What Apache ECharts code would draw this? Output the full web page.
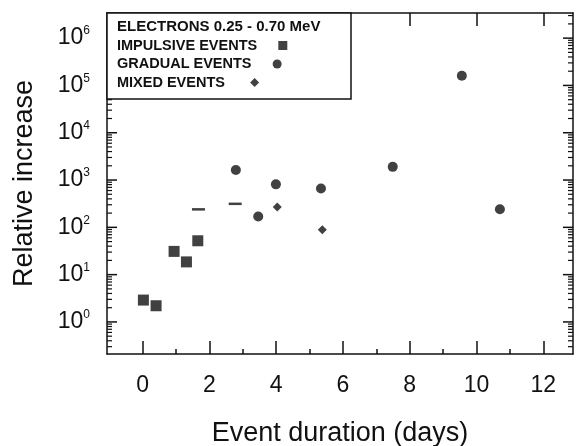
<!DOCTYPE html>
<html>
<head>
<meta charset="utf-8">
<script src="https://cdn.jsdelivr.net/npm/echarts@6/dist/echarts.min.js"></script>
<style>html,body{margin:0;padding:0;background:#fff}#c{width:577px;height:446px}</style>
</head>
<body>
<div id="c"></div>
<script>
// ---- data ----
const impulsiveX = [0.02, 0.40, 0.94, 1.31, 1.65];
const impulsiveY = [2.9, 2.2, 31, 18.6, 52];
const gradualX = [2.79, 3.46, 3.99, 5.34, 7.49, 9.56, 10.70];
const gradualY = [1630, 169, 810, 665, 1900, 160000, 241];
const mixedX = [4.03, 5.38];
const mixedY = [268, 89];
const dashX = [1.67, 2.77];
const dashY = [240, 314];
const xMajorTicks = [0, 2, 4, 6, 8, 10, 12];
const xMinorTicks = [1, 3, 5, 7, 9, 11];
const yMajorTicks = [1, 10, 100, 1000, 10000, 100000, 1000000];
const yMinorTicks = [];
[0.1, 1, 10, 100, 1000, 10000, 100000, 1000000].forEach(d => {
  for (let k = 2; k <= 9; k++) yMinorTicks.push(+(k * d).toPrecision(3));
});
const legendTitle = 'ELECTRONS 0.25 - 0.70 MeV';
const seriesNames = ['IMPULSIVE EVENTS', 'GRADUAL EVENTS', 'MIXED EVENTS'];
const legendIcons = ['rect', 'circle', 'diamond'];
const xTitle = 'Event duration (days)';
const yTitle = 'Relative increase';

const ink = '#111';
const font = 'Liberation Sans, Arial, Helvetica, sans-serif';
const xMin = -1.07, xMax = 12.89;
const yMin = 0.21, yMax = 3.4e6;
const legendPad = [4, 4, 5];

function pairs(xs, ys) { return xs.map((x, i) => [x, ys[i]]); }

function xAx(extra) {
  return Object.assign({
    type: 'value', min: xMin, max: xMax, position: 'bottom',
    splitLine: { show: false },
    axisLine: { show: false, onZero: false },
    axisTick: { show: false },
    axisLabel: { show: false }
  }, extra);
}
const lineOn = { show: true, onZero: false, lineStyle: { color: ink, width: 1.5 } };
function ticks(vals, len, w) {
  return { show: true, inside: true, length: len, customValues: vals, lineStyle: { color: ink, width: w } };
}

const legends = seriesNames.map((n, i) => ({
  show: true, orient: 'vertical', left: 117, top: 38 + i * 18.5, align: 'right',
  itemWidth: 9, itemHeight: 9, padding: 0,
  formatter: nm => nm + ' '.repeat(legendPad[i]),
  textStyle: { fontSize: 14.5, fontWeight: 'bold', fontFamily: font, color: ink },
  data: [{ name: n, icon: legendIcons[i] }],
  z: 6
}));

// y tick marks drawn through the log y scale (both sides of the frame)
const yTickData = yMajorTicks.map(v => [xMin, v, 10])
  .concat(yMinorTicks.filter(v => v > yMin && v < yMax).map(v => [xMin, v, 5]));

const chart = echarts.init(document.getElementById('c'), null, { renderer: 'canvas' });
chart.setOption({
  animation: false,
  backgroundColor: '#fff',
  grid: { left: 107, top: 13, right: 4, bottom: 92, containLabel: false, outerBoundsMode: 'none' },
  xAxis: [
    xAx({
      axisLine: lineOn,
      axisTick: ticks(xMajorTicks, 13, 1.5),
      axisLabel: { show: true, customValues: xMajorTicks, fontSize: 23, fontFamily: font, color: ink, margin: 20 },
      name: xTitle, nameLocation: 'middle', nameGap: 66,
      nameTextStyle: { fontSize: 27, fontFamily: font, color: ink }
    }),
    xAx({ axisTick: ticks(xMinorTicks, 5, 1.5) }),
    xAx({ position: 'top', axisLine: lineOn, axisTick: ticks(xMajorTicks, 13, 1.5) })
  ],
  yAxis: [
    {
      type: 'log', min: yMin, max: yMax, position: 'left',
      splitLine: { show: false },
      axisLine: lineOn,
      axisTick: { show: false },
      axisLabel: {
        show: true, customValues: yMajorTicks, margin: 17,
        formatter: v => '{b|10}{s|' + Math.round(Math.log10(v)) + '}',
        rich: {
          b: { fontSize: 23, fontFamily: font, color: ink, lineHeight: 26 },
          s: { fontSize: 12, fontFamily: font, color: ink, verticalAlign: 'top', lineHeight: 12 }
        }
      },
      name: yTitle, nameLocation: 'middle', nameGap: 69, nameRotate: 90,
      nameTextStyle: { fontSize: 27, fontFamily: font, color: ink }
    },
    {
      type: 'log', min: yMin, max: yMax, position: 'right',
      splitLine: { show: false }, axisLine: lineOn,
      axisTick: { show: false }, axisLabel: { show: false }
    }
  ],
  legend: legends,
  graphic: [
    { type: 'rect', z: 5, shape: { x: 107, y: 13, width: 244, height: 86 },
      style: { fill: '#fff', stroke: ink, lineWidth: 1.5 } },
    { type: 'text', z: 6, x: 117, y: 27,
      style: { text: legendTitle, fontSize: 15, fontWeight: 'bold', fontFamily: font, fill: ink, verticalAlign: 'middle' } }
  ],
  series: [
    { name: seriesNames[0], type: 'scatter', symbol: 'rect', symbolSize: 11,
      itemStyle: { color: ink }, data: pairs(impulsiveX, impulsiveY) },
    { name: seriesNames[1], type: 'scatter', symbol: 'circle', symbolSize: 10,
      itemStyle: { color: ink }, data: pairs(gradualX, gradualY) },
    { name: seriesNames[2], type: 'scatter', symbol: 'diamond', symbolSize: 9,
      itemStyle: { color: ink }, data: pairs(mixedX, mixedY) },
    { name: 'dash', type: 'scatter', symbol: 'rect', symbolSize: [13, 2.5],
      itemStyle: { color: ink }, data: pairs(dashX, dashY) },
    {
      name: 'yticks', type: 'custom', silent: true, clip: false, z: 3,
      encode: { x: 0, y: 1 },
      data: yTickData,
      renderItem: function (params, api) {
        const v = api.value(1), len = api.value(2);
        const l = api.coord([xMin, v]);
        const r = api.coord([xMax, v]);
        const st = { stroke: ink, lineWidth: len > 6 ? 1.5 : 1.2 };
        return {
          type: 'group',
          children: [
            { type: 'line', shape: { x1: l[0], y1: l[1], x2: l[0] + len, y2: l[1] }, style: st },
            { type: 'line', shape: { x1: r[0], y1: r[1], x2: r[0] - len, y2: r[1] }, style: st }
          ]
        };
      }
    }
  ]
});
</script>
</body>
</html>
